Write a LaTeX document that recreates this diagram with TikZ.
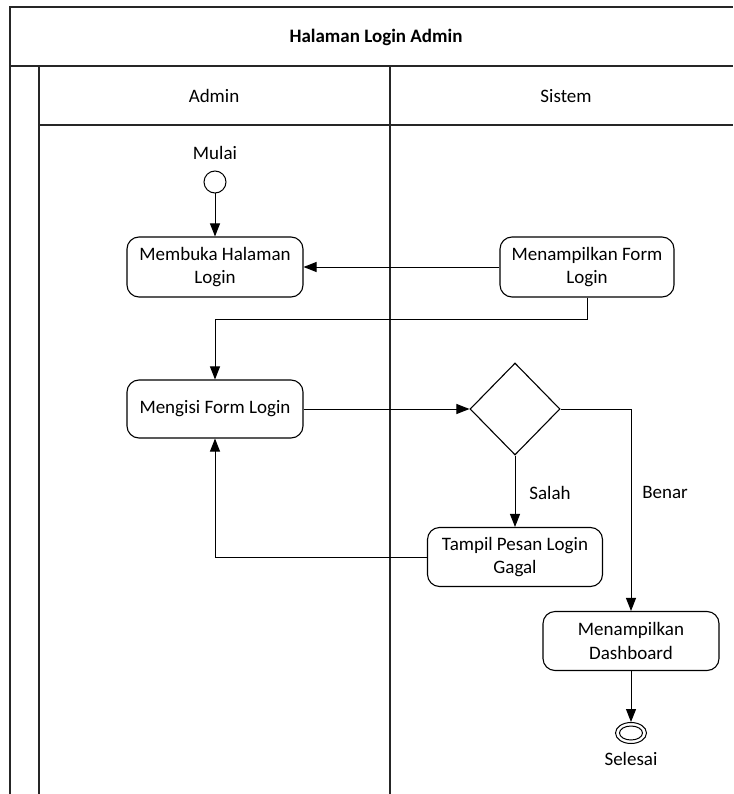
\documentclass[tikz,border=0pt]{standalone}
\usepackage{fontspec}
\setmainfont{Carlito}
\usetikzlibrary{arrows.meta,shapes.geometric,positioning}

\tikzset{
  frame/.style={line width=1.4pt, draw=black!85},
  activity/.style={draw, line width=1.1pt, rounded corners=12pt, align=center,
    minimum width=176pt, minimum height=60pt, inner sep=2pt},
  decision/.style={draw, line width=1.1pt, diamond, minimum width=90pt,
    minimum height=92pt, inner sep=0pt},
  flow/.style={line width=1pt, -{Triangle[length=13pt,width=10pt]}},
  label/.style={align=center}
}

\begin{document}
\begin{tikzpicture}[x={(1pt,0)}, y={(0,-1pt)},
  every node/.style={font=\fontsize{19}{23.5}\selectfont}]
\useasboundingbox (0,0) rectangle (733,794);

% swimlane frame
\draw[frame] (10,794) -- (10,7) -- (733,7);
\draw[frame] (10,66) -- (733,66);
\draw[frame] (39,66) -- (39,794);
\draw[frame] (39,125) -- (733,125);
\draw[frame] (390,66) -- (390,794);

\node[font=\fontsize{19}{23.5}\selectfont\bfseries] (title) at (376,37) {Halaman Login Admin};
\node (laneA) at (214,96) {Admin};
\node (laneS) at (566,96) {Sistem};

% start
\node[draw, circle, line width=1pt, minimum size=22pt, inner sep=0pt] (start) at (215,182) {};
\node (mulai) at (215,153) {Mulai};

% activities
\node[activity] (membuka) at (215,267) {Membuka Halaman\\Login};
\node[activity, minimum width=174pt] (formlogin) at (587,267) {Menampilkan Form\\Login};
\node[activity, minimum height=58pt] (mengisi) at (215,409) {Mengisi Form Login};
\node[decision] (cek) at (515,409) {};
\node[activity, minimum width=175pt, minimum height=59pt] (gagal) at (515,557) {Tampil Pesan Login\\Gagal};
\node[activity, minimum height=59pt] (dashboard) at (631,641) {Menampilkan\\Dashboard};

% end
\node[draw, ellipse, line width=1pt, minimum width=31pt, minimum height=21pt, inner sep=0pt] (akhir) at (631,733) {};
\node[draw, ellipse, line width=1pt, minimum width=23pt, minimum height=14pt, inner sep=0pt] (akhirdalam) at (631,733) {};
\node (selesai) at (631,759) {Selesai};

% flows
\draw[flow] (start) -- (membuka);
\draw[flow] (formlogin) -- (membuka);
\coordinate (c1) at (587,319);
\coordinate (c2) at (215,319);
\draw[flow] (formlogin.south) -- (c1) -- (c2) -- (mengisi.north);
\draw[flow] (mengisi) -- (cek);
\draw[flow] (cek.south) -- (gagal.north);
\node (salah) at (550,493) {Salah};
\coordinate (c3) at (631,409);
\draw[flow] (cek.east) -- (c3) -- (dashboard.north);
\node (benar) at (665,492) {Benar};
\coordinate (c4) at (215,557);
\draw[flow] (gagal.west) -- (c4) -- (mengisi.south);
\draw[flow] (dashboard.south) -- (akhir.north);
\end{tikzpicture}
\end{document}
